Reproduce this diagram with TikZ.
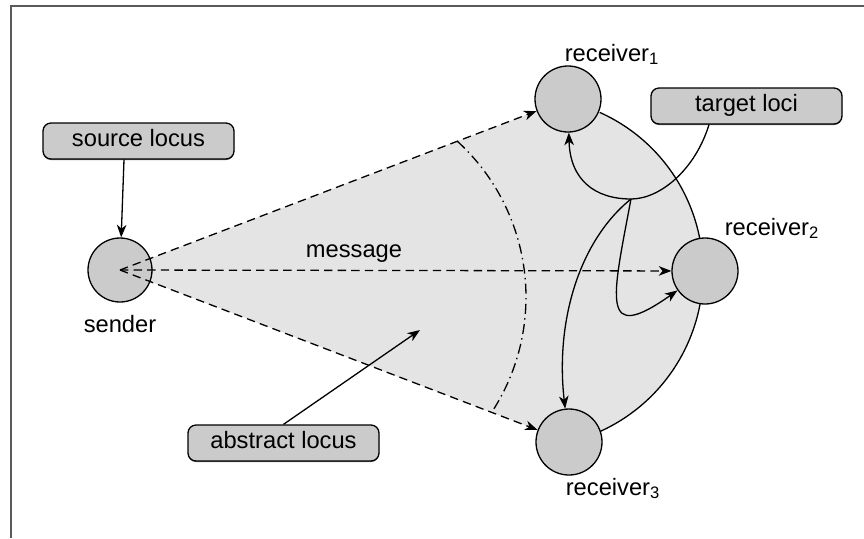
\documentclass[tikz,border=0pt]{standalone}
\usepackage{fontspec}
\setmainfont{Liberation Sans}
\usetikzlibrary{arrows.meta,calc,shadows}
\definecolor{nodegray}{HTML}{CBCBCB}
\definecolor{regiongray}{HTML}{E4E4E4}
\definecolor{framegray}{HTML}{5A5A5A}

\begin{document}
\begin{tikzpicture}[x=0.5pt,y=-0.5pt,
  font=\fontsize{11.85pt}{14pt}\selectfont,
  line width=0.65pt,
  tip/.style={-{Stealth[length=6.3pt,width=4.8pt,inset=1.9pt]}},
  msg/.style={tip, dash pattern=on 4.2pt off 2.6pt},
  dashdot/.style={dash pattern=on 5pt off 2.2pt on 0.7pt off 2.2pt},
  site/.style={circle, draw, fill=nodegray, inner sep=0pt, minimum size=33pt},
  agent/.style={circle, draw, fill=nodegray, inner sep=0pt, minimum size=32pt},
  tag/.style={draw, fill=nodegray, rounded corners=4pt, minimum width=95.5pt,
    minimum height=18pt, inner sep=0pt, text height=0.72em, text depth=0.2em,
    drop shadow={shadow xshift=0pt, shadow yshift=-0.5pt, fill=black!80, opacity=0.7}},
  lbl/.style={inner sep=0pt}]

\useasboundingbox (0,0) rectangle (864,538);

% frame
\draw[framegray, line width=0.7pt] (11,538) -- (11,6) -- (864,6);

% centres
\coordinate (s)  at (120,270);
\coordinate (c1) at (568,99);
\coordinate (c2) at (705,271);
\coordinate (c3) at (569,442);

% shaded area of the abstract locus
\fill[regiongray] (s) -- (c1) -- ($(528,272)+(-65.8:175)$)
  arc[start angle=-65.8, end angle=65.8, radius=175] -- (c3) -- cycle;
\draw ($(528,272)+(-65.8:175)$) arc[start angle=-65.8, end angle=65.8, radius=175];

% dash-dot boundary
\draw[dashdot] ($(315,297)+(-47.5:211)$) arc[start angle=-47.5, end angle=33.2, radius=211];

% sender and receivers
\node[agent] (snd) at (s) {};
\node[site] (r1) at (c1) {};
\node[site] (r2) at (c2) {};
\node[site] (r3) at (c3) {};

% messages
\draw[msg] (s) -- (r1);
\draw[msg] (s) -- (r2);
\draw[msg] (s) -- (r3);

% callout boxes
\node[tag] (src) at (138.5,141) {source locus};
\node[tag] (tgt) at (746.5,106) {target loci};
\node[tag] (abs) at (283.5,443) {abstract locus};

\coordinate (absPt) at (420,330);
\coordinate (jn) at (631,199);

\draw[tip] ([xshift=-7.25pt]src.south) -- (snd);
\draw[tip] (abs.north) -- (absPt);

\draw[tip] ([xshift=-18.75pt]tgt.south) .. controls (695,170) and (660,199) .. (jn)
  .. controls (595,199) and (570,180) .. (r1);
\draw[tip] (jn) .. controls (612,300) and (600,345) .. (r2);
\draw[tip] (jn) .. controls (580,240) and (555,320) .. (r3);

% labels
\node[lbl, anchor=base east] (l1) at (660,61) {receiver\textsubscript{1}};
\node[lbl, anchor=base east] (l2) at (820,235) {receiver\textsubscript{2}};
\node[lbl, anchor=base east] (l3) at (661,495) {receiver\textsubscript{3}};
\node[lbl, anchor=base] (ls) at (120,332) {sender};
\node[lbl, anchor=base] (lm) at (354,257) {message};
\end{tikzpicture}
\end{document}
